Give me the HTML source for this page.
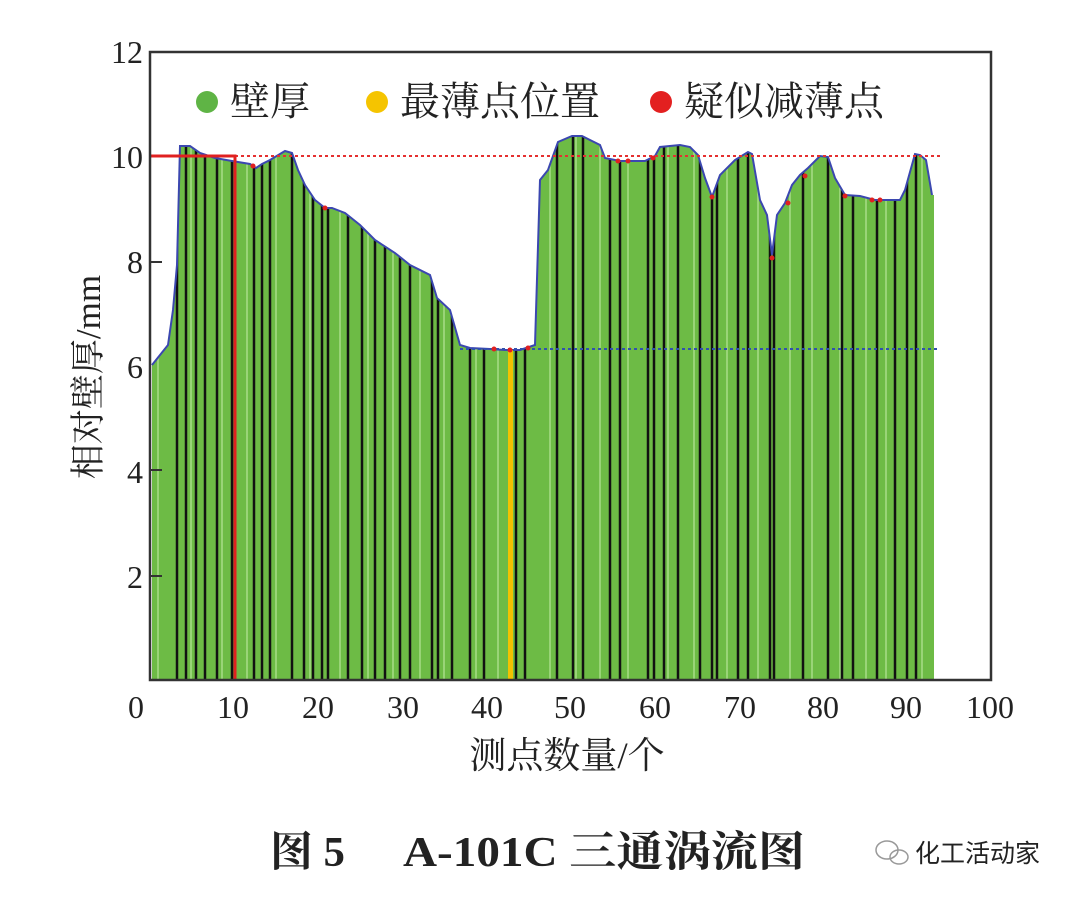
<!DOCTYPE html>
<html><head><meta charset="utf-8"><style>
body{margin:0;background:#fff;}
svg text{font-family:"Liberation Serif","Noto Serif CJK SC",serif;fill:#222;}
</style></head><body>
<svg width="1080" height="898" viewBox="0 0 1080 898" xmlns="http://www.w3.org/2000/svg">
<rect width="1080" height="898" fill="#fff"/>
<defs>
<clipPath id="c"><polygon points="152,680 152,365 160,355 168,345 173,310 177,265 180,146 190,146 200,153 215,158 232,161 250,164 256,168 262,164 270,160 285,151 292,153 298,170 305,185 315,200 325,208 332,208 345,213 360,225 375,240 395,253 410,265 430,275 437,298 450,310 460,345 470,348 490,349 505,350 520,350 535,345 540,180 548,170 558,142 572,136 582,136 590,140 600,145 605,158 620,161 645,161 655,156 660,147 680,145 690,147 698,155 705,178 712,197 720,175 735,160 748,152 752,154 760,200 767,215 772,255 777,215 785,203 792,185 800,175 808,168 820,156 828,157 835,178 845,195 860,196 875,200 900,200 905,190 915,154 920,155 926,160 932,195 934,195 934,680"/></clipPath>
</defs>
<g clip-path="url(#c)">
<rect x="150" y="130" width="790" height="552" fill="#6dbb45"/>
<g stroke="#a8dd88" stroke-width="1.5">
<path d="M158 130V680M191 130V680M222 130V680M247 130V680M276 130V680M310 130V680M340 130V680M368 130V680M393 130V680M420 130V680M444 130V680M476 130V680M498 130V680M550 130V680M576 130V680M600 130V680M628 130V680M668 130V680M694 130V680M727 130V680M758 130V680M790 130V680M812 130V680M840 130V680M866 130V680M886 130V680M922 130V680"/>
</g>
<g stroke="#111" stroke-width="2.5">
<path d="M177 130V680M186 130V680M196 130V680M205 130V680M217 130V680M232 130V680M254 130V680M262 130V680M270 130V680M292 130V680M304 130V680M313 130V680M322 130V680M328 130V680M348 130V680M362 130V680M375 130V680M385 130V680M400 130V680M410 130V680M432 130V680M438 130V680M452 130V680M470 130V680M484 130V680M516 130V680M525 130V680M557 130V680M573 130V680M583 130V680M610 130V680M620 130V680M648 130V680M654 130V680M664 130V680M678 130V680M700 130V680M712 130V680M717 130V680M738 130V680M748 130V680M770 130V680M774 130V680M803 130V680M828 130V680M842 130V680M853 130V680M877 130V680M895 130V680M907 130V680M916 130V680"/>
</g>
</g>
<polyline fill="none" stroke="#3b47b0" stroke-width="2" points="152,365 160,355 168,345 173,310 177,265 180,146 190,146 200,153 215,158 232,161 250,164 256,168 262,164 270,160 285,151 292,153 298,170 305,185 315,200 325,208 332,208 345,213 360,225 375,240 395,253 410,265 430,275 437,298 450,310 460,345 470,348 490,349 505,350 520,350 535,345 540,180 548,170 558,142 572,136 582,136 590,140 600,145 605,158 620,161 645,161 655,156 660,147 680,145 690,147 698,155 705,178 712,197 720,175 735,160 748,152 752,154 760,200 767,215 772,255 777,215 785,203 792,185 800,175 808,168 820,156 828,157 835,178 845,195 860,196 875,200 900,200 905,190 915,154 920,155 926,160 932,195"/>
<line x1="235" y1="156" x2="940" y2="156" stroke="#e53030" stroke-width="2" stroke-dasharray="3,3"/>
<line x1="460" y1="349" x2="940" y2="349" stroke="#3050b0" stroke-width="2" stroke-dasharray="3,3"/>
<polyline fill="none" stroke="#e02020" stroke-width="3" points="150,156 235,156 235,680"/>
<rect x="508" y="350" width="5" height="330" fill="#f2c200"/>
<g fill="#e02020">
<circle cx="253" cy="166" r="2.5"/><circle cx="325" cy="208" r="2.5"/><circle cx="494" cy="349" r="2.5"/><circle cx="510" cy="350" r="2.5"/><circle cx="528" cy="348" r="2.5"/><circle cx="618" cy="161" r="2.5"/><circle cx="628" cy="161" r="2.5"/><circle cx="653" cy="158" r="2.5"/><circle cx="712" cy="197" r="2.5"/><circle cx="772" cy="258" r="2.5"/><circle cx="788" cy="203" r="2.5"/><circle cx="805" cy="176" r="2.5"/><circle cx="845" cy="196" r="2.5"/><circle cx="872" cy="200" r="2.5"/><circle cx="880" cy="200" r="2.5"/>
</g>
<rect x="150" y="52" width="841" height="628" fill="none" stroke="#333" stroke-width="2.5"/>
<g stroke="#333" stroke-width="2"><path d="M150 262h12M150 576h12M150 470h12"/></g>
<g font-size="32" text-anchor="end">
<text x="143" y="63">12</text><text x="143" y="168">10</text><text x="143" y="273">8</text><text x="143" y="378">6</text><text x="143" y="483">4</text><text x="143" y="588">2</text>
</g>
<g font-size="32" text-anchor="middle">
<text x="136" y="718">0</text><text x="233" y="718">10</text><text x="318" y="718">20</text><text x="403" y="718">30</text><text x="487" y="718">40</text><text x="570" y="718">50</text><text x="655" y="718">60</text><text x="740" y="718">70</text><text x="823" y="718">80</text><text x="906" y="718">90</text><text x="990" y="718">100</text>
</g>
<text x="567" y="768" font-size="37" text-anchor="middle">测点数量/个</text>
<text transform="translate(100,377) rotate(-90)" font-size="35" text-anchor="middle">相对壁厚/mm</text>
<circle cx="207" cy="102" r="11" fill="#5fb445"/><text x="230" y="115" font-size="40">壁厚</text>
<circle cx="377" cy="102" r="11" fill="#f5c400"/><text x="400" y="115" font-size="40">最薄点位置</text>
<circle cx="661" cy="102" r="11" fill="#e32020"/><text x="684" y="115" font-size="40">疑似减薄点</text>
<text x="270" y="866" font-size="42" font-weight="bold" textLength="75" lengthAdjust="spacingAndGlyphs">图 5</text>
<text x="403" y="866" font-size="42" font-weight="bold" textLength="402" lengthAdjust="spacingAndGlyphs">A-101C 三通涡流图</text>
<g stroke="#999" fill="none" stroke-width="1.5"><ellipse cx="887" cy="850" rx="11" ry="9"/><ellipse cx="899" cy="857" rx="9" ry="7"/></g>
<text x="915" y="862" font-size="25" fill="#444" style="font-family:'Noto Sans CJK SC',sans-serif">化工活动家</text>
</svg>
</body></html>
